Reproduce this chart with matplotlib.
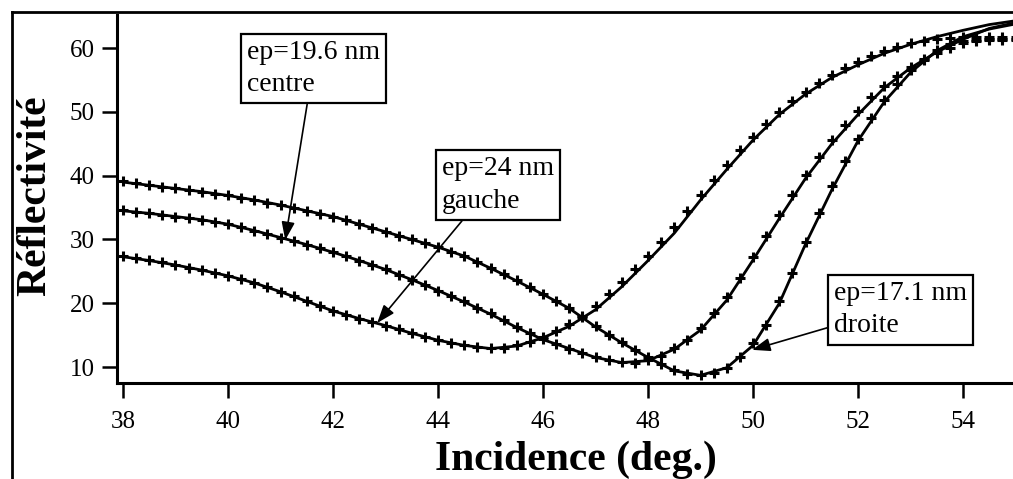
import numpy as np
import matplotlib
matplotlib.use('Agg')
import matplotlib.pyplot as plt
from matplotlib.lines import Line2D

plt.rcParams['font.family'] = ['Liberation Serif', 'DejaVu Serif']

# fitted curves (solid lines), read every 0.5 deg
angle_fit = np.arange(38.0, 55.01, 0.5)
gauche_fit = [27.3, 26.7, 26.0, 25.2, 24.3, 23.2, 21.8, 20.3, 18.8, 17.6, 16.5, 15.3,
              14.2, 13.4, 12.9, 13.3, 14.6, 16.4, 19.0, 22.6, 26.7, 31.0, 36.2, 41.0,
              45.6, 49.6, 52.8, 55.4, 57.4, 59.2, 60.6, 61.8, 62.8, 63.7, 64.3]
centre_fit = [34.5, 34.1, 33.6, 33.1, 32.4, 31.4, 30.3, 29.2, 28.0, 26.7, 25.3, 23.7,
              22.0, 20.2, 18.3, 16.2, 14.3, 12.9, 11.5, 10.7, 11.0, 12.8, 15.8, 20.5,
              26.8, 33.3, 39.6, 45.0, 49.6, 53.8, 56.9, 59.4, 61.4, 63.1, 64.0]
droite_fit = [39.0, 38.5, 38.0, 37.5, 36.9, 36.2, 35.4, 34.5, 33.6, 32.4, 31.2, 30.0,
              28.8, 27.4, 25.5, 23.5, 21.4, 19.2, 16.3, 13.8, 11.5, 9.4, 8.7, 9.9,
              13.4, 20.0, 29.3, 37.8, 45.5, 51.6, 56.2, 59.6, 61.8, 63.0, 63.8]

# measured points (markers), read every 0.25 deg
angle_meas = np.arange(38.0, 55.01, 0.25)
gauche_meas = [27.4, 27.1, 26.8, 26.4, 26.0, 25.6, 25.2, 24.8, 24.3, 23.8, 23.2, 22.5,
               21.8, 21.1, 20.3, 19.5, 18.8, 18.2, 17.6, 17.0, 16.5, 15.9, 15.3, 14.7,
               14.2, 13.8, 13.4, 13.1, 13.0, 13.0, 13.4, 13.9, 14.7, 15.6, 16.7, 18.0,
               19.6, 21.4, 23.3, 25.3, 27.4, 29.6, 31.9, 34.4, 36.9, 39.4, 41.7, 44.0,
               46.1, 48.1, 50.0, 51.7, 53.2, 54.6, 55.8, 56.9, 57.8, 58.7, 59.5, 60.2,
               60.8, 61.2, 61.5, 61.6, 61.7, 61.7, 61.7, 61.7, 61.7]
centre_meas = [34.6, 34.3, 34.1, 33.9, 33.6, 33.4, 33.1, 32.8, 32.4, 31.9, 31.4, 30.9,
               30.3, 29.8, 29.2, 28.6, 28.0, 27.4, 26.7, 26.0, 25.3, 24.5, 23.7, 22.9,
               22.0, 21.1, 20.3, 19.3, 18.4, 17.3, 16.3, 15.3, 14.4, 13.6, 12.9, 12.2,
               11.6, 11.1, 10.8, 10.7, 11.1, 11.8, 13.0, 14.3, 16.2, 18.4, 21.0, 23.9,
               27.2, 30.5, 33.8, 37.0, 40.1, 43.0, 45.6, 48.0, 50.2, 52.3, 54.1, 55.7,
               57.0, 58.2, 59.2, 60.1, 60.8, 61.2, 61.4, 61.4, 61.4]
droite_meas = [39.2, 38.9, 38.6, 38.3, 38.0, 37.8, 37.5, 37.2, 36.9, 36.5, 36.2, 35.8,
               35.4, 34.9, 34.5, 34.0, 33.6, 33.0, 32.4, 31.8, 31.2, 30.6, 30.0, 29.4,
               28.8, 28.1, 27.4, 26.5, 25.6, 24.6, 23.6, 22.6, 21.5, 20.4, 19.3, 17.8,
               16.4, 15.1, 13.9, 12.7, 11.6, 10.5, 9.5, 8.9, 8.7, 9.0, 9.9, 11.5,
               13.7, 16.6, 20.3, 24.8, 29.6, 34.2, 38.4, 42.3, 45.8, 49.0, 51.9, 54.4,
               56.5, 58.3, 59.7, 60.7, 61.2, 61.3, 61.3, 61.3, 61.3]

labels = ['ep=19.6 nm\ncentre', 'ep=24 nm\ngauche', 'ep=17.1 nm\ndroite']
label_pos = [(41.63, 56.8), (45.14, 38.5), (52.81, 19.0)]
arrow_tip = [(41.09, 29.9), (42.84, 16.9), (49.98, 12.7)]
arrow_rel = [(0.46, 0.0), (0.23, 0.0), (0.0, 0.22)]

W, H = 1013, 479
fig = plt.figure(figsize=(W / 100, H / 100), dpi=100)
ax = fig.add_axes([117 / W, 1 - 383 / H, 1 - 117 / W, (383 - 15) / H])

for fit, meas in [(gauche_fit, gauche_meas), (centre_fit, centre_meas),
                  (droite_fit, droite_meas)]:
    ax.plot(angle_fit, fit, color='black', lw=2.0, solid_capstyle='round')
    ax.plot(angle_meas, meas, ls='none', marker='+', ms=7, mew=2.2, color='black')

for txt, pos, tip, rel in zip(labels, label_pos, arrow_tip, arrow_rel):
    ax.annotate(txt, xy=tip, xytext=pos, textcoords='data', fontsize=20,
                ha='center', va='center', multialignment='left', linespacing=1.4,
                bbox=dict(boxstyle='square,pad=0.22', fc='white', ec='black', lw=1.6),
                arrowprops=dict(arrowstyle='-|>,head_length=0.55,head_width=0.2',
                                color='black', lw=1.2, shrinkA=0, shrinkB=0,
                                relpos=rel),
                annotation_clip=False)

ax.set_xlim(37.886, 54.95)
ax.set_ylim(7.5, 65.2)
ax.set_xticks([38, 40, 42, 44, 46, 48, 50, 52, 54])
ax.set_yticks([10, 20, 30, 40, 50, 60])
ax.spines['top'].set_visible(False)
ax.spines['right'].set_visible(False)
ax.spines['left'].set_linewidth(2.2)
ax.spines['bottom'].set_linewidth(2.2)
ax.tick_params(axis='both', direction='out', length=11, width=1.8, labelsize=18)
ax.tick_params(axis='x', pad=9)
ax.tick_params(axis='y', pad=5)

fig.text(35 / W, 1 - 196 / H, 'Réflectivité', rotation=90, ha='center', va='center',
         fontsize=30, fontweight='bold')
fig.text(576 / W, 1 - 470 / H, 'Incidence (deg.)', ha='center', va='baseline',
         fontsize=30, fontweight='bold')

# outer frame (left and top edges)
fig.add_artist(Line2D([12 / W, 12 / W], [0, 1 - 12 / H], color='black', lw=2.0))
fig.add_artist(Line2D([12 / W, 1], [1 - 12 / H, 1 - 12 / H], color='black', lw=2.0))

fig.savefig('out.png', dpi=100)
